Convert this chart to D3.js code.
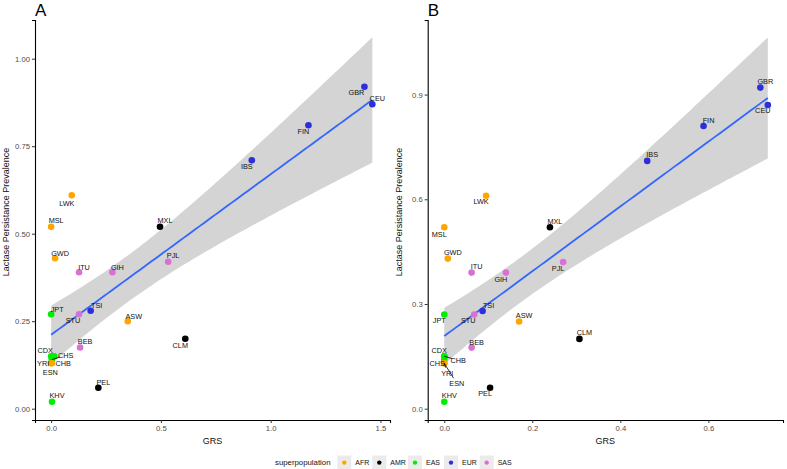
<!DOCTYPE html>
<html><head><meta charset="utf-8">
<script src="https://cdn.jsdelivr.net/npm/d3@7"></script>
<style>body{margin:0;background:#fff}svg{display:block;font-family:"Liberation Sans",Arial,sans-serif}</style>
</head><body>
<svg id="c" width="787" height="469"></svg>
<script>
// ---- data ----
const populations = ["LWK","MSL","MXL","GWD","ITU","GIH","PJL","JPT","STU","TSI","ASW","CLM","BEB","CDX","CHS","CHB","YRI","ESN","PEL","KHV","GBR","CEU","FIN","IBS"];
const superpop   = ["AFR","AFR","AMR","AFR","SAS","SAS","SAS","EAS","SAS","EUR","AFR","AMR","SAS","EAS","EAS","EAS","AFR","AFR","AMR","EAS","EUR","EUR","EUR","EUR"];
const prevalence = [0.61,0.52,0.52,0.43,0.39,0.39,0.42,0.27,0.27,0.28,0.25,0.20,0.175,0.15,0.14,0.15,0.13,0.13,0.06,0.02,0.92,0.87,0.81,0.71];
const grsA       = [0.094,0.0,0.496,0.018,0.127,0.279,0.533,0.0,0.127,0.18,0.349,0.611,0.132,0.0,0.003,0.014,0.0,0.003,0.215,0.004,1.427,1.463,1.172,0.914];
const grsB       = [0.095,0.0,0.240,0.008,0.062,0.14,0.27,0.0,0.068,0.087,0.17,0.307,0.062,0.0,0.0,0.0,0.0,0.0,0.104,0.0,0.718,0.735,0.589,0.461];
const superCats  = ["AFR","AMR","EAS","EUR","SAS"];
const ticksA_x = [0,0.5,1.0,1.5], ticksA_y = [0,0.25,0.5,0.75,1.0];
const ticksB_x = [0,0.2,0.4,0.6], ticksB_y = [0,0.3,0.6,0.9];

// ---- layout (label offsets in px, segments flagged) ----
const labA = {LWK:[-5,8],MSL:[5,-6],MXL:[5,-6],GWD:[5,-5],ITU:[5,-5],GIH:[5,-5],PJL:[5,-6],JPT:[6,-5],STU:[-6,6],TSI:[6,-5],ASW:[6,-5],CLM:[-5,7],BEB:[5,-6],CDX:[-6,-6],CHS:[14,-4.5,1],CHB:[9,7],YRI:[-8,0],ESN:[-1.5,9.5],PEL:[5,-5],KHV:[5,-6],GBR:[-8,6],CEU:[5,-6],FIN:[-5,6],IBS:[-5,6]};
const labB = {LWK:[-5,6],MSL:[-5,7],MXL:[5,-6],GWD:[5,-6],ITU:[5,-6],GIH:[-5,7],PJL:[-5,6],JPT:[-5,6],STU:[-6,6],TSI:[6,-6],ASW:[5,-6],CLM:[5,-6],BEB:[5,-5],CDX:[-5,-6],CHB:[14,4,1],CHS:[-7,3.5],YRI:[3,10,1],ESN:[12.5,20,1],PEL:[-5,6],KHV:[5,-6],GBR:[5,-6],CEU:[-5,5],FIN:[5,-6],IBS:[5,-6]};

const color = d3.scaleOrdinal().domain(superCats).range(["#FFA500","#000000","#00EE00","#2E2EDB","#DA70D6"]);
const svg = d3.select("#c");

function panel(o){
  const g = svg.append("g");
  const x = d3.scaleLinear().domain(o.xdom).range(o.xr);
  const y = d3.scaleLinear().domain(o.ydom).range([420,20]);
  const xs = o.grs, n = xs.length, ys = prevalence;
  const xbar = d3.mean(xs), ybar = d3.mean(ys);
  let sxx=0,sxy=0; xs.forEach((v,i)=>{sxx+=(v-xbar)**2; sxy+=(v-xbar)*(ys[i]-ybar);});
  const b = sxy/sxx, a = ybar - b*xbar;
  let sse=0; xs.forEach((v,i)=>{sse+=(ys[i]-a-b*v)**2;});
  const s = Math.sqrt(sse/(n-2)), t = 2.0739;
  const [mn,mx] = d3.extent(xs);
  const grid = d3.range(0,81).map(k=>mn+(mx-mn)*k/80).map(v=>{const f=a+b*v, se=s*Math.sqrt(1/n+(v-xbar)**2/sxx);return {v,f,lo:f-t*se,hi:f+t*se};});
  g.append("path").datum(grid).attr("fill","#d4d4d4")
    .attr("d",d3.area().x(d=>x(d.v)).y0(d=>y(d.lo)).y1(d=>y(d.hi)));
  g.append("path").datum(grid).attr("fill","none").attr("stroke","#3366FF").attr("stroke-width",1.8)
    .attr("d",d3.line().x(d=>x(d.v)).y(d=>y(d.f)));
  // axes
  const ax = g.append("g").attr("transform","translate(0,420)")
    .call(d3.axisBottom(x).tickValues(o.tx).tickFormat(d3.format(o.fx)).tickSize(3).tickPadding(3));
  const ay = g.append("g").attr("transform",`translate(${o.xr[0]},0)`)
    .call(d3.axisLeft(y).tickValues(o.ty).tickFormat(d3.format(o.fy)).tickSize(3).tickPadding(2));
  [ax,ay].forEach(a=>{a.select(".domain").attr("stroke","#000").attr("stroke-width",1.1);
    a.selectAll(".tick line").attr("stroke","#333");
    a.selectAll("text").attr("fill","#4d4d4d").attr("font-size","7.7px").attr("font-family","Liberation Sans, Arial");});
  // points
  g.selectAll("circle").data(populations).join("circle")
    .attr("cx",(d,i)=>x(xs[i])).attr("cy",(d,i)=>y(ys[i])).attr("r",3.3)
    .attr("fill",(d,i)=>color(superpop[i]));
  // labels
  populations.forEach((p,i)=>{
    const [dx,dy,seg] = o.lab[p], px=x(xs[i]), py=y(ys[i]);
    if(seg){
      const tx=px+dx, ty=py+dy, L=Math.hypot(dx,dy), k=(L-6)/L;
      g.append("line").attr("x1",px).attr("y1",py).attr("x2",px+dx*k).attr("y2",py+dy*k).attr("stroke","#000").attr("stroke-width",0.8);
    }
    g.append("text").attr("x",px+dx).attr("y",py+dy).attr("dy","0.35em").attr("text-anchor","middle")
      .attr("font-size","7.3px").attr("fill","#111").text(p);
  });
  // titles
  g.append("text").attr("x",(o.xr[0]+o.xr[1])/2).attr("y",443.5).attr("text-anchor","middle").attr("font-size","9px").attr("fill","#111").text("GRS");
  g.append("text").attr("transform",`translate(${o.ytx},212) rotate(-90)`).attr("text-anchor","middle").attr("font-size","9px").attr("fill","#111").text("Lactase Persistance Prevalence");
  g.append("text").attr("x",o.xr[0]).attr("y",15.5).attr("font-size","17px").attr("fill","#000").text(o.letter);
}

panel({grs:grsA,xdom:[-0.0735,1.5435],xr:[35,390],ydom:[-0.0323,1.1106],tx:ticksA_x,ty:ticksA_y,fx:".1f",fy:".2f",lab:labA,ytx:9,letter:"A"});
panel({grs:grsB,xdom:[-0.0377,0.7695],xr:[427.7,783],ydom:[-0.0324,1.1137],tx:ticksB_x,ty:ticksB_y,fx:".1f",fy:".1f",lab:labB,ytx:401.5,letter:"B"});

// legend
const lg = svg.append("g");
lg.append("text").attr("x",275).attr("y",465.3).attr("font-size","7.8px").attr("fill","#111").text("superpopulation");
const lx = [344.3,379.3,415,451,486.7];
superCats.forEach((c,i)=>{
  lg.append("rect").attr("x",lx[i]-7).attr("y",455.5).attr("width",14).attr("height",14).attr("fill","#ebebeb");
  lg.append("circle").attr("cx",lx[i]).attr("cy",462.6).attr("r",2.2).attr("fill",color(c));
  lg.append("text").attr("x",lx[i]+11).attr("y",465).attr("font-size","7px").attr("fill","#111").text(c);
});
</script>
</body></html>
